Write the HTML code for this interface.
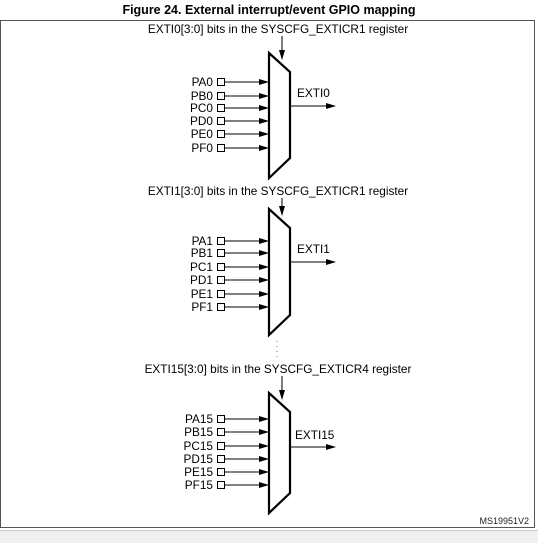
<!DOCTYPE html>
<html><head><style>
body{margin:0;background:#fff;width:538px;height:543px;overflow:hidden;font-family:"Liberation Sans",Arial,sans-serif}
</style></head><body>
<svg width="538" height="543" xmlns="http://www.w3.org/2000/svg" font-family="Liberation Sans, Arial, sans-serif">
<defs><marker id="a" markerWidth="10" markerHeight="8" refX="9" refY="4" orient="auto" markerUnits="userSpaceOnUse"><path d="M0,1 L10,4 L0,7z" fill="#000"/></marker></defs>
<rect x="0" y="530" width="538" height="13" fill="#f0f0f0"/>
<line x1="0" y1="530.5" x2="538" y2="530.5" stroke="#ccc"/>
<text x="269" y="14" font-size="12.5" font-weight="bold" text-anchor="middle">Figure 24. External interrupt/event GPIO mapping</text>
<rect x="0.5" y="20.5" width="534" height="507" fill="none" stroke="#555"/>
<text x="529" y="524" font-size="9" text-anchor="end" fill="#222">MS19951V2</text>
<g font-size="11.8" fill="#000">
<text x="278" y="33" text-anchor="middle">EXTI0[3:0] bits in the SYSCFG_EXTICR1 register</text>
<text x="278" y="195" text-anchor="middle">EXTI1[3:0] bits in the SYSCFG_EXTICR1 register</text>
<text x="278" y="373" text-anchor="middle">EXTI15[3:0] bits in the SYSCFG_EXTICR4 register</text>
</g>
<g stroke="#000" fill="none">
<line x1="282" y1="36" x2="282" y2="59" marker-end="url(#a)"/>
<path d="M269,53 L290,72 L290,158 L269,178 Z" stroke-width="2.2" fill="#fff"/>
<line x1="290" y1="106" x2="335" y2="106" marker-end="url(#a)"/>
</g>
<g stroke="#000" fill="none">
<line x1="282" y1="198" x2="282" y2="215" marker-end="url(#a)"/>
<path d="M269,209 L290,228 L290,315 L269,335 Z" stroke-width="2.2" fill="#fff"/>
<line x1="290" y1="262" x2="335" y2="262" marker-end="url(#a)"/>
<line x1="277" y1="341" x2="277" y2="358" stroke="#777" stroke-dasharray="1,4"/>
</g>
<g stroke="#000" fill="none">
<line x1="282" y1="376" x2="282" y2="399" marker-end="url(#a)"/>
<path d="M269,393 L290,412 L290,493 L269,513 Z" stroke-width="2.2" fill="#fff"/>
<line x1="290" y1="447" x2="335" y2="447" marker-end="url(#a)"/>
</g>
<g font-size="11.8">
<text x="297" y="97">EXTI0</text>
<text x="297" y="253">EXTI1</text>
<text x="295" y="439">EXTI15</text>
</g>
<g font-size="11.8" text-anchor="end">
<text x="213" y="86">PA0</text><text x="213" y="100">PB0</text><text x="213" y="112">PC0</text><text x="213" y="125">PD0</text><text x="213" y="138">PE0</text><text x="213" y="152">PF0</text>
<text x="213" y="245">PA1</text><text x="213" y="257">PB1</text><text x="213" y="271">PC1</text><text x="213" y="284">PD1</text><text x="213" y="298">PE1</text><text x="213" y="311">PF1</text>
<text x="213" y="423">PA15</text><text x="213" y="436">PB15</text><text x="213" y="450">PC15</text><text x="213" y="463">PD15</text><text x="213" y="476">PE15</text><text x="213" y="489">PF15</text>
</g>
<g stroke="#000" fill="#fff">
<rect x="217.5" y="78.5" width="7" height="7"/><line x1="224.5" y1="82" x2="268" y2="82" marker-end="url(#a)"/>
<rect x="217.5" y="92.5" width="7" height="7"/><line x1="224.5" y1="96" x2="268" y2="96" marker-end="url(#a)"/>
<rect x="217.5" y="104.5" width="7" height="7"/><line x1="224.5" y1="108" x2="268" y2="108" marker-end="url(#a)"/>
<rect x="217.5" y="117.5" width="7" height="7"/><line x1="224.5" y1="121" x2="268" y2="121" marker-end="url(#a)"/>
<rect x="217.5" y="130.5" width="7" height="7"/><line x1="224.5" y1="134" x2="268" y2="134" marker-end="url(#a)"/>
<rect x="217.5" y="144.5" width="7" height="7"/><line x1="224.5" y1="148" x2="268" y2="148" marker-end="url(#a)"/>
<rect x="217.5" y="237.5" width="7" height="7"/><line x1="224.5" y1="241" x2="268" y2="241" marker-end="url(#a)"/>
<rect x="217.5" y="249.5" width="7" height="7"/><line x1="224.5" y1="253" x2="268" y2="253" marker-end="url(#a)"/>
<rect x="217.5" y="263.5" width="7" height="7"/><line x1="224.5" y1="267" x2="268" y2="267" marker-end="url(#a)"/>
<rect x="217.5" y="276.5" width="7" height="7"/><line x1="224.5" y1="280" x2="268" y2="280" marker-end="url(#a)"/>
<rect x="217.5" y="290.5" width="7" height="7"/><line x1="224.5" y1="294" x2="268" y2="294" marker-end="url(#a)"/>
<rect x="217.5" y="303.5" width="7" height="7"/><line x1="224.5" y1="307" x2="268" y2="307" marker-end="url(#a)"/>
<rect x="217.5" y="415.5" width="7" height="7"/><line x1="224.5" y1="419" x2="268" y2="419" marker-end="url(#a)"/>
<rect x="217.5" y="428.5" width="7" height="7"/><line x1="224.5" y1="432" x2="268" y2="432" marker-end="url(#a)"/>
<rect x="217.5" y="442.5" width="7" height="7"/><line x1="224.5" y1="446" x2="268" y2="446" marker-end="url(#a)"/>
<rect x="217.5" y="455.5" width="7" height="7"/><line x1="224.5" y1="459" x2="268" y2="459" marker-end="url(#a)"/>
<rect x="217.5" y="468.5" width="7" height="7"/><line x1="224.5" y1="472" x2="268" y2="472" marker-end="url(#a)"/>
<rect x="217.5" y="481.5" width="7" height="7"/><line x1="224.5" y1="485" x2="268" y2="485" marker-end="url(#a)"/>
</g>
</svg>
</body></html>
